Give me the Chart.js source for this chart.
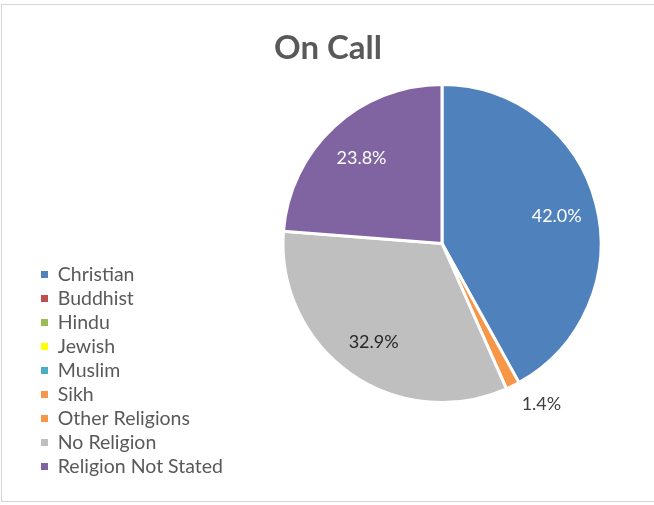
<!DOCTYPE html>
<html>
<head>
<meta charset="utf-8">
<script src="https://cdn.jsdelivr.net/npm/chart.js@4.4.0/dist/chart.umd.min.js"></script>
<style>
html, body { margin: 0; padding: 0; background: #ffffff; }
#wrap { position: relative; width: 654px; height: 505px; overflow: hidden; }
#frame { position: absolute; left: 1px; top: 4px; width: 700px; height: 498px; border: 1px solid #d4d4d4; box-sizing: border-box; }
#c { position: absolute; left: 0; top: 0; }
</style>
</head>
<body>
<div id="wrap">
  <div id="frame"></div>
  <canvas id="c" width="654" height="505"></canvas>
</div>
<script>
// ---- data ----
const chartTitle = 'On Call';
const categories = ['Christian', 'Buddhist', 'Hindu', 'Jewish', 'Muslim', 'Sikh', 'Other Religions', 'No Religion', 'Religion Not Stated'];
const percentages = [42.0, 0, 0, 0, 0, 0, 1.4, 32.9, 23.8];

// ---- styles ----
const sliceColors = ['#4F81BD', '#C0504D', '#9BBB59', '#FFFF00', '#4BACC6', '#F79646', '#F79646', '#BFBFBF', '#8064A2'];
const insideLabelColors = ['#FFFFFF', '#FFFFFF', '#FFFFFF', '#404040', '#FFFFFF', '#FFFFFF', '#404040', '#262626', '#FFFFFF'];
const FONT = 'Lato';

const legendWidthPlugin = {
  id: 'legendWidth',
  beforeInit(chart) {
    const origFit = chart.legend.fit;
    chart.legend.fit = function () {
      origFit.call(this);
      this.width = 228;
    };
  }
};

const pctLabels = {
  id: 'pctLabels',
  afterDatasetsDraw(chart) {
    const ctx = chart.ctx;
    const meta = chart.getDatasetMeta(0);
    const data = chart.data.datasets[0].data;
    const total = data.reduce((a, b) => a + b, 0);
    ctx.save();
    ctx.font = '18px ' + FONT;
    ctx.textAlign = 'center';
    ctx.textBaseline = 'middle';
    meta.data.forEach((arc, i) => {
      const v = data[i];
      if (!v) return;
      const p = arc.getProps(['x', 'y', 'startAngle', 'endAngle', 'outerRadius'], true);
      const mid = (p.startAngle + p.endAngle) / 2;
      const c = Math.cos(mid), s = Math.sin(mid);
      const txt = v.toFixed(1) + '%';
      let px, py, color;
      if (v / total >= 0.05) {
        px = p.x + c * p.outerRadius * 0.745;
        py = p.y + s * p.outerRadius * 0.745 + 2;
        color = insideLabelColors[i];
      } else {
        const w = ctx.measureText(txt).width;
        px = p.x + c * (p.outerRadius + 20) + Math.sign(c) * w / 2;
        py = p.y + s * (p.outerRadius + 20);
        color = '#404040';
      }
      ctx.fillStyle = color;
      ctx.fillText(txt, px, py);
    });
    ctx.restore();
  }
};

new Chart(document.getElementById('c'), {
  type: 'pie',
  data: {
    labels: categories,
    datasets: [{
      data: percentages,
      backgroundColor: sliceColors,
      borderColor: '#FFFFFF',
      borderWidth: 3,
      hoverOffset: 0
    }]
  },
  options: {
    responsive: false,
    animation: false,
    radius: 159,
    events: [],
    layout: { padding: { left: 36.5, right: 34.5, top: 0, bottom: 24.25 } },
    plugins: {
      title: {
        display: true,
        text: chartTitle,
        color: '#595959',
        font: { family: FONT, size: 33, weight: 'bold' },
        padding: { top: 28.2, bottom: -61.55 }
      },
      legend: {
        position: 'left',
        align: 'end',
        labels: {
          boxWidth: 7,
          boxHeight: 7,
          padding: 4.5,
          color: '#595959',
          font: { family: FONT, size: 19.5 },
          generateLabels(chart) {
            const ds = chart.data.datasets[0];
            return chart.data.labels.map((t, i) => ({
              text: t,
              fillStyle: ds.backgroundColor[i],
              strokeStyle: 'rgba(0,0,0,0)',
              lineWidth: 0,
              hidden: false,
              index: i,
              fontColor: '#595959'
            }));
          }
        }
      },
      tooltip: { enabled: false }
    }
  },
  plugins: [legendWidthPlugin, pctLabels]
});
</script>
</body>
</html>
